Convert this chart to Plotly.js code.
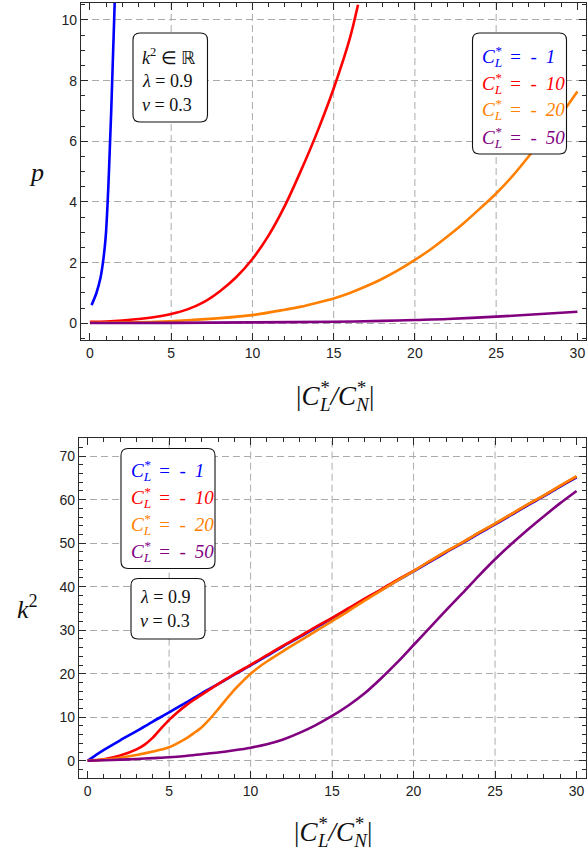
<!DOCTYPE html>
<html>
<head>
<meta charset="utf-8">
<script src="https://cdn.plot.ly/plotly-3.0.1.min.js"></script>
<style>html,body{margin:0;padding:0;background:#fff;}#plot{width:587px;height:852px;}</style>
</head>
<body>
<div id="plot"></div>
<script>
// ---------- data: top panel (p vs |C_L*/C_N*|) ----------
const xBlueTop = [0.10,0.40,0.65,0.80,0.91,0.99,1.09,1.17,1.24,1.31,1.37,1.43,1.49,1.53];
const pBlue    = [0.60,1.00,1.50,2.00,2.50,3.00,4.00,5.00,6.00,7.00,8.00,9.00,10.00,10.70];
const xRedTop  = [0,1,2,3,4,5,6,7,8,9,10,11,12,13,14,15,16,16.5];
const pRed     = [0.05,0.06,0.09,0.14,0.21,0.31,0.46,0.70,1.06,1.52,2.12,2.90,3.88,5.05,6.32,7.74,9.40,10.50];
const xOrTop   = [0,2,4,6,8,10,12,13,14,15,16,17,18,19,20,21,22,23,24,25,26,27,28,29,30];
const pOrange  = [0.02,0.03,0.05,0.10,0.17,0.27,0.45,0.55,0.68,0.82,1.00,1.22,1.47,1.76,2.09,2.45,2.86,3.30,3.78,4.28,4.85,5.50,6.18,6.88,7.64];
const xPuTop   = [0,5,10,15,18,20,22,25,27,30];
const pPurple  = [0.01,0.015,0.03,0.05,0.08,0.11,0.14,0.22,0.28,0.38];

// ---------- data: bottom panel (k^2 vs |C_L*/C_N*|) ----------
const xBlueBot = [0,0.5,1,2,3,4,5,6,7,8,9,10,11,12,13,14,15,16,17,18,19,20,21,22,23,24,25,26,27,28,29,30];
const kBlue    = [0,1.3,2.5,4.7,6.8,9.0,11.1,13.3,15.5,17.6,19.8,21.9,24.1,26.3,28.4,30.6,32.7,34.9,37.1,39.2,41.4,43.5,45.7,47.9,50.0,52.2,54.3,56.5,58.7,60.8,63.0,65.1];
const xRedBot  = [0,1,2,3,3.5,4,4.5,5,5.5,6,6.5,7,7.5,8,9,10,11,12,13,14,15,16,17,18,19,20,21,22,23,24,25,26,27,28,29,30];
const kRed     = [0,0.35,1.2,2.6,3.7,5.3,7.4,9.4,11.1,12.6,13.95,15.2,16.4,17.6,19.9,22.05,24.25,26.45,28.55,30.75,32.85,35.05,37.25,39.35,41.55,43.65,45.85,48.05,50.15,52.35,54.45,56.65,58.85,60.95,63.15,65.3];
const xOrBot   = [0,1,2,3,4,5,5.5,6,6.5,7,7.5,8,8.5,9,9.5,10,10.5,11,12,13,14,15,16,17,18,19,20,21,22,23,24,25,26,27,28,29,30];
const kOrange  = [0,0.25,0.7,1.3,2.1,3.1,4.0,5.0,6.3,7.7,9.6,11.8,14.1,16.3,18.2,20.0,21.5,22.8,25.2,27.5,29.8,32.1,34.4,36.8,39.1,41.4,43.6,45.9,48.1,50.2,52.4,54.5,56.7,58.9,61.0,63.2,65.4];
const xPuBot   = [0,1,2,3,4,5,6,7,8,9,10,11,12,13,14,15,16,17,18,19,20,21,22,23,24,25,26,27,28,29,30];
const kPurple  = [0,0.1,0.25,0.4,0.6,0.8,1.1,1.5,1.9,2.4,3.0,3.8,4.9,6.4,8.2,10.3,12.7,15.5,18.9,22.6,26.6,30.6,34.6,38.5,42.5,46.3,49.8,53.1,56.2,59.2,62.0];

const gridX = [5,10,15,20,25];
const legendLabels = ['1','10','20','50'];
const colors = ['#0000ff','#ff0000','#ff8000','#800080'];

// ---------- helpers ----------
const W = 587, H = 852;
const PX = x => x / W;
const PY = y => 1 - y / H;
function roundRect(x0, y0, x1, y1, r) {
  const p = (x, y) => PX(x) + ',' + PY(y);
  return 'M' + p(x0 + r, y0) + ' L' + p(x1 - r, y0) + ' Q' + p(x1, y0) + ' ' + p(x1, y0 + r) +
    ' L' + p(x1, y1 - r) + ' Q' + p(x1, y1) + ' ' + p(x1 - r, y1) +
    ' L' + p(x0 + r, y1) + ' Q' + p(x0, y1) + ' ' + p(x0, y1 - r) +
    ' L' + p(x0, y0 + r) + ' Q' + p(x0, y0) + ' ' + p(x0 + r, y0) + ' Z';
}
// C with stacked * (superscript) and subscript
const stacked = (sub, pull) => 'C<sup><span style="letter-spacing:-' + pull + 'px">*</span></sup><sub>' + sub + '</sub>';
const legendText = lab => '<i>' + stacked('L', 6.5) + '<span style="letter-spacing:2px"> = - </span>' + lab + '</i>';

const LW = 2.6;
const sp = c => ({color: c, width: LW, shape: 'spline', smoothing: 0.8});
const traces = [
  {x: xBlueTop, y: pBlue, xaxis: 'x', yaxis: 'y', mode: 'lines', line: sp(colors[0])},
  {x: xRedTop, y: pRed, xaxis: 'x', yaxis: 'y', mode: 'lines', line: sp(colors[1])},
  {x: xOrTop, y: pOrange, xaxis: 'x', yaxis: 'y', mode: 'lines', line: sp(colors[2])},
  {x: xPuTop, y: pPurple, xaxis: 'x', yaxis: 'y', mode: 'lines', line: sp(colors[3])},
  {x: xBlueBot, y: kBlue, xaxis: 'x2', yaxis: 'y2', mode: 'lines', line: sp(colors[0])},
  {x: xRedBot, y: kRed, xaxis: 'x2', yaxis: 'y2', mode: 'lines', line: sp(colors[1])},
  {x: xOrBot, y: kOrange, xaxis: 'x2', yaxis: 'y2', mode: 'lines', line: sp(colors[2])},
  {x: xPuBot, y: kPurple, xaxis: 'x2', yaxis: 'y2', mode: 'lines', line: sp(colors[3])}
];

const frameColor = '#2a2a2a';
const gridColor = '#ababab';
const gridDash = '7px,4px';
const tickFont = {family: 'Liberation Sans, Arial, sans-serif', size: 14, color: '#222'};
function xAxis(domain, range, anchor) {
  return {domain: domain, range: range, anchor: anchor, tick0: 0, dtick: 5, ticks: 'inside', ticklen: 7,
    tickcolor: frameColor, showline: true, linecolor: frameColor, linewidth: 1.2, mirror: 'ticks',
    showgrid: false, zeroline: false, tickfont: tickFont,
    minor: {dtick: 1, ticks: 'inside', ticklen: 4, tickcolor: frameColor, showgrid: false}};
}
function yAxis(domain, range, anchor, dtick, mdtick) {
  return {domain: domain, range: range, anchor: anchor, tick0: 0, dtick: dtick, ticks: 'inside', ticklen: 7,
    tickcolor: frameColor, showline: true, linecolor: frameColor, linewidth: 1.2, mirror: 'ticks',
    showgrid: true, gridcolor: gridColor, gridwidth: 1, griddash: gridDash, zeroline: false, tickfont: tickFont,
    minor: {dtick: mdtick, ticks: 'inside', ticklen: 4, tickcolor: frameColor, showgrid: false}};
}

const shapes = [];
gridX.forEach(g => {
  shapes.push({type: 'line', xref: 'x', yref: 'y domain', x0: g, x1: g, y0: 0, y1: 1, layer: 'below',
    line: {color: gridColor, width: 1, dash: gridDash}});
  shapes.push({type: 'line', xref: 'x2', yref: 'y2 domain', x0: g, x1: g, y0: 0, y1: 1, layer: 'below',
    line: {color: gridColor, width: 1, dash: gridDash}});
});
const boxStyle = {type: 'path', xref: 'paper', yref: 'paper', layer: 'above', fillcolor: '#ffffff', line: {color: '#111', width: 1.1}};
shapes.push(Object.assign({path: roundRect(133, 33, 207.5, 122, 7)}, boxStyle));
shapes.push(Object.assign({path: roundRect(472.5, 33, 566.5, 154, 7)}, boxStyle));
shapes.push(Object.assign({path: roundRect(121, 448.5, 215, 568.5, 7)}, boxStyle));
shapes.push(Object.assign({path: roundRect(131, 578.5, 205, 639, 7)}, boxStyle));

const serif = 'Liberation Serif, Times New Roman, serif';
const annotations = [];
function addText(x, y, text, size, color, xanchor) {
  annotations.push({xref: 'paper', yref: 'paper', x: PX(x), y: PY(y), text: text, showarrow: false,
    xanchor: xanchor || 'left', yanchor: 'middle', font: {family: serif, size: size, color: color || '#111'}});
}
// axis titles
const xTitle = '|<i>' + stacked('L', 9) + '/' + stacked('N', 9) + '</i>|';
addText(335, 396, xTitle, 27, '#111', 'center');
addText(333, 832, xTitle, 27, '#111', 'center');
addText(36, 172, '<i>p</i>', 26, '#111', 'center');
addText(27, 607, '<i>k</i><sup>2</sup>', 26, '#111', 'center');
// top-left parameter box
addText(140, 56, '<i>k</i><sup>2</sup> ∈ ℝ', 18);
addText(140, 81, '<i>λ</i> = 0.9', 18);
addText(140, 105, '<i>ν</i> = 0.3', 18);
// top-right legend box
legendLabels.forEach((lab, i) => addText(480, 56 + 27 * i, legendText(lab), 19, colors[i]));
// bottom legend box
legendLabels.forEach((lab, i) => addText(129, 470 + 27 * i, legendText(lab), 19, colors[i]));
// bottom parameter box
addText(138, 597, '<i>λ</i> = 0.9', 18);
addText(138, 621, '<i>ν</i> = 0.3', 18);

const layout = {
  width: W, height: H, margin: {l: 0, r: 0, t: 0, b: 0}, showlegend: false,
  paper_bgcolor: '#ffffff', plot_bgcolor: '#ffffff',
  xaxis: xAxis([81 / W, 586 / W], [-0.55, 30.53], 'y'),
  yaxis: yAxis([1 - 340 / H, 1 - 3 / H], [-0.55, 10.56], 'x', 2, 0.5),
  xaxis2: xAxis([79 / W, 586 / W], [-0.53, 30.58], 'y2'),
  yaxis2: yAxis([1 - 777.7 / H, 1 - 438.3 / H], [-3.9, 74.1], 'x2', 10, 2),
  shapes: shapes, annotations: annotations
};
Plotly.newPlot('plot', traces, layout, {displayModeBar: false});
</script>
</body>
</html>
